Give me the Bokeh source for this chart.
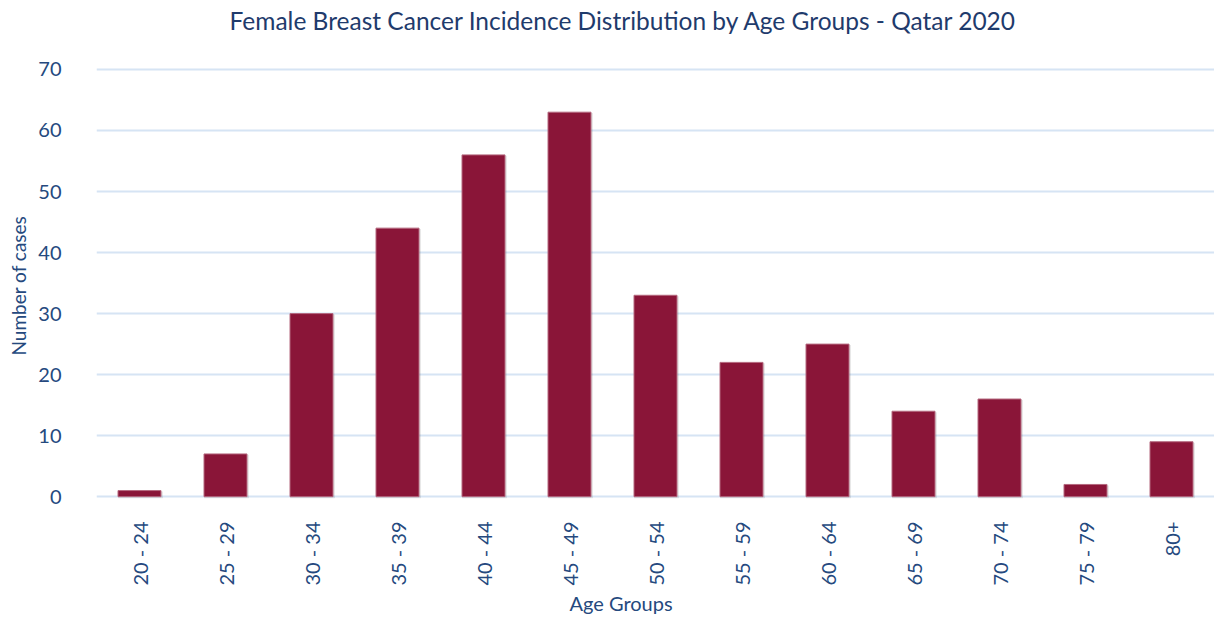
import math
from bokeh.plotting import figure
from bokeh.models import FactorRange, Range1d, Label, Title, ColumnDataSource
from bokeh.transform import dodge
from bokeh.embed import file_html
from bokeh.resources import INLINE

age_groups = ["20 - 24", "25 - 29", "30 - 34", "35 - 39", "40 - 44", "45 - 49",
              "50 - 54", "55 - 59", "60 - 64", "65 - 69", "70 - 74", "75 - 79", "80+"]
cases = [1, 7, 30, 44, 56, 63, 33, 22, 25, 14, 16, 2, 9]
y_ticks = [0, 10, 20, 30, 40, 50, 60, 70]

TITLE = "Female Breast Cancer Incidence Distribution by Age Groups - Qatar 2020"
X_LABEL = "Age Groups"
Y_LABEL = "Number of cases"
FONT = "Lato"
NAVY = "#1F3B6C"
TEXT = "#25497E"
BAR = "#8A1538"
GRID = "#D6E4F4"

src = ColumnDataSource(dict(x=age_groups, top=cases,
                            stop=[c - 0.15 for c in cases]))

# the frame reaches the top of the canvas; the title sits inside it above the 70 line
p = figure(x_range=FactorRange(factors=age_groups, range_padding=0),
           y_range=Range1d(-0.3, 81.3),
           width=1214, height=628, title=None,
           output_backend="svg", toolbar_location=None,
           min_border_left=96, min_border_right=0,
           min_border_top=0, min_border_bottom=130)

# soft drop shadow
p.vbar(x=dodge("x", 0.012, range=p.x_range), top="stop", bottom=-0.45, width=0.52,
       source=src, fill_color="#000000", fill_alpha=0.10, line_color=None)
p.vbar(x="x", top="top", bottom=0, width=0.5, source=src,
       fill_color=BAR, line_color="#B4687E", line_width=1)

p.ygrid.ticker = y_ticks
p.yaxis.ticker = y_ticks
p.ygrid.grid_line_color = GRID
p.ygrid.grid_line_width = 2
p.xgrid.grid_line_color = None
p.outline_line_color = None

for ax in (p.xaxis, p.yaxis):
    ax.axis_line_color = None
    ax.major_tick_line_color = None
    ax.minor_tick_line_color = None
    ax.major_label_text_font = FONT
    ax.major_label_text_font_size = "20px"
    ax.major_label_text_color = TEXT

p.yaxis.major_label_standoff = 29
p.xaxis.major_label_orientation = math.pi / 2
p.xaxis.major_label_standoff = 17

p.add_layout(Label(x=1.547, y=78.0, text=TITLE, text_font=FONT,
                   text_font_size="24.5px", text_color=NAVY,
                   text_align="left", text_baseline="middle"))

p.add_layout(Title(text=Y_LABEL, align="left", offset=143, vertical_align="middle",
                   text_font=FONT, text_font_size="19px", text_font_style="normal",
                   text_color=TEXT, standoff=10), "left")

# thin invisible spacer between the tick labels and the x-axis title
p.add_layout(Title(text=".", text_font=FONT, text_font_size="8px",
                   text_color=None, standoff=0), "below")
p.add_layout(Title(text=X_LABEL, align="left", offset=473,
                   text_font=FONT, text_font_size="20px", text_font_style="normal",
                   text_color=TEXT, standoff=0), "below")

open("out.html", "w").write(file_html(p, INLINE))
